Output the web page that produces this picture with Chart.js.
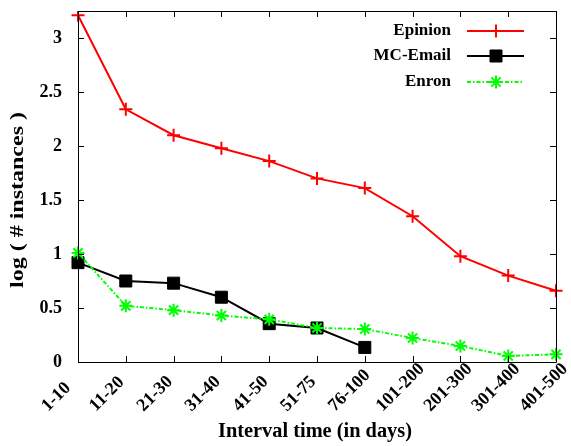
<!DOCTYPE html>
<html>
<head>
<meta charset="utf-8">
<script src="https://cdn.jsdelivr.net/npm/chart.js@4/dist/chart.umd.min.js"></script>
<style>
html,body{margin:0;padding:0;background:#fff;}
#wrap{width:571px;height:446px;}
</style>
</head>
<body>
<div id="wrap"><canvas id="c" width="571" height="446"></canvas></div>
<script>
const categories = ['1-10','11-20','21-30','31-40','41-50','51-75','76-100','101-200','201-300','301-400','401-500'];
const epinion = [3.21, 2.34, 2.10, 1.98, 1.86, 1.70, 1.61, 1.35, 0.98, 0.80, 0.66];
const mcEmail = [0.92, 0.75, 0.73, 0.60, 0.355, 0.315, 0.135];
const enron = [1.01, 0.52, 0.48, 0.43, 0.395, 0.315, 0.305, 0.222, 0.148, 0.056, 0.071];
const yTicks = [0, 0.5, 1, 1.5, 2, 2.5, 3];
const seriesNames = ['Epinion', 'MC-Email', 'Enron'];
const xTitle = 'Interval time (in days)';
const yTitle = 'log ( # instances )';

const FONT = "'Liberation Serif', 'Times New Roman', serif";
const CHART_L = 78, CHART_R = 556, CHART_T = 11, CHART_B = 362;

function stretchText(ctx, text, x, y, rot, targetW) {
  const w = ctx.measureText(text).width;
  ctx.save();
  ctx.translate(x, y);
  ctx.rotate(rot);
  ctx.scale(targetW / w, 1);
  ctx.textAlign = 'center';
  ctx.textBaseline = 'middle';
  ctx.fillText(text, 0, 0);
  ctx.restore();
}

const framePlugin = {
  id: 'frame',
  afterDatasetsDraw(chart) {
    const {ctx, chartArea: a, scales: {x, y}} = chart;
    ctx.save();
    ctx.strokeStyle = '#000';
    ctx.lineWidth = 1;
    ctx.beginPath();
    ctx.rect(Math.round(a.left) + 0.5, Math.round(a.top) + 0.5, Math.round(a.right - a.left), Math.round(a.bottom - a.top));
    ctx.stroke();
    const tl = 6;
    ctx.beginPath();
    for (let i = 0; i < categories.length; i++) {
      const px = Math.round(x.getPixelForValue(i)) + 0.5;
      ctx.moveTo(px, a.bottom); ctx.lineTo(px, a.bottom - tl);
      ctx.moveTo(px, a.top); ctx.lineTo(px, a.top + tl);
    }
    yTicks.forEach(v => {
      const py = Math.round(y.getPixelForValue(v)) + 0.5;
      ctx.moveTo(a.left, py); ctx.lineTo(a.left + tl, py);
      ctx.moveTo(a.right, py); ctx.lineTo(a.right - tl, py);
    });
    ctx.stroke();
    ctx.restore();
  },
  afterDraw(chart) {
    const {ctx, chartArea: a, scales: {x}} = chart;
    ctx.save();
    ctx.fillStyle = '#000';
    // x tick labels: rotated 45deg, anchored at their start
    ctx.font = "bold 18px " + FONT;
    ctx.textAlign = 'left';
    ctx.textBaseline = 'alphabetic';
    categories.forEach((lab, i) => {
      const px = x.getPixelForValue(i);
      ctx.save();
      ctx.translate(px - 30, a.bottom + 50);
      ctx.rotate(-Math.PI / 4);
      ctx.fillText(lab, 0, 0);
      ctx.restore();
    });
    // axis titles
    ctx.font = "bold 20px " + FONT;
    stretchText(ctx, xTitle, 315, 432, 0, 194);
    ctx.font = "bold 19px " + FONT;
    stretchText(ctx, yTitle, 18, 200, -Math.PI / 2, 176);
    // legend
    ctx.font = "bold 17px " + FONT;
    ctx.textAlign = 'right';
    ctx.textBaseline = 'middle';
    const rows = [31, 56, 82];
    chart.data.datasets.forEach((ds, i) => {
      const yy = rows[i];
      ctx.fillStyle = '#000';
      ctx.fillText(ds.label, 451, yy);
      ctx.strokeStyle = ds.borderColor;
      ctx.lineWidth = ds.borderWidth;
      ctx.setLineDash(ds.borderDash || []);
      ctx.beginPath();
      ctx.moveTo(467, yy); ctx.lineTo(524, yy);
      ctx.stroke();
      ctx.setLineDash([]);
      ctx.fillStyle = ds.pointBackgroundColor;
      ctx.strokeStyle = ds.pointBorderColor;
      ctx.lineWidth = ds.pointBorderWidth;
      Chart.helpers.drawPoint(ctx, {pointStyle: ds.pointStyle, radius: ds.pointRadius, rotation: 0, borderWidth: ds.pointBorderWidth}, 496, yy);
    });
    ctx.restore();
  }
};

new Chart(document.getElementById('c'), {
  type: 'line',
  data: {
    labels: categories,
    datasets: [
      {
        label: seriesNames[0], data: epinion,
        borderColor: '#ff0000', backgroundColor: '#ff0000',
        pointBackgroundColor: '#ff0000', pointBorderColor: '#ff0000',
        borderWidth: 2, pointStyle: 'cross', pointRadius: 6.5, pointBorderWidth: 2,
        tension: 0, order: 3
      },
      {
        label: seriesNames[1], data: mcEmail,
        borderColor: '#000000', backgroundColor: '#000000',
        pointBackgroundColor: '#000000', pointBorderColor: '#000000',
        borderWidth: 2, pointStyle: 'rect', pointRadius: 8.5, pointBorderWidth: 1,
        tension: 0, order: 2
      },
      {
        label: seriesNames[2], data: enron,
        borderColor: '#00ff00', backgroundColor: '#00ff00',
        pointBackgroundColor: '#00ff00', pointBorderColor: '#00ff00',
        borderWidth: 2, borderDash: [4, 2, 1.5, 2], pointStyle: 'star', pointRadius: 6.5, pointBorderWidth: 2,
        tension: 0, order: 1
      }
    ]
  },
  options: {
    responsive: false,
    animation: false,
    events: [],
    layout: { padding: { left: 0, right: 571 - CHART_R, top: CHART_T, bottom: 0 } },
    plugins: { legend: { display: false }, tooltip: { enabled: false } },
    scales: {
      x: {
        type: 'category',
        offset: false,
        grid: { display: false, drawTicks: false },
        border: { display: false },
        ticks: { display: false },
        afterFit(s) { s.height = 446 - CHART_B; s.paddingLeft = 0; s.paddingRight = 0; }
      },
      y: {
        min: 0, max: 3.25,
        grid: { display: false, drawTicks: false },
        border: { display: false },
        afterBuildTicks(s) { s.ticks = yTicks.map(v => ({ value: v })); },
        ticks: {
          padding: 16, color: '#000',
          font: { family: FONT, size: 18, weight: 'bold' },
          callback: v => String(v)
        },
        afterFit(s) { s.width = CHART_L; s.paddingTop = 0; s.paddingBottom = 0; }
      }
    }
  },
  plugins: [framePlugin]
});
</script>
</body>
</html>
